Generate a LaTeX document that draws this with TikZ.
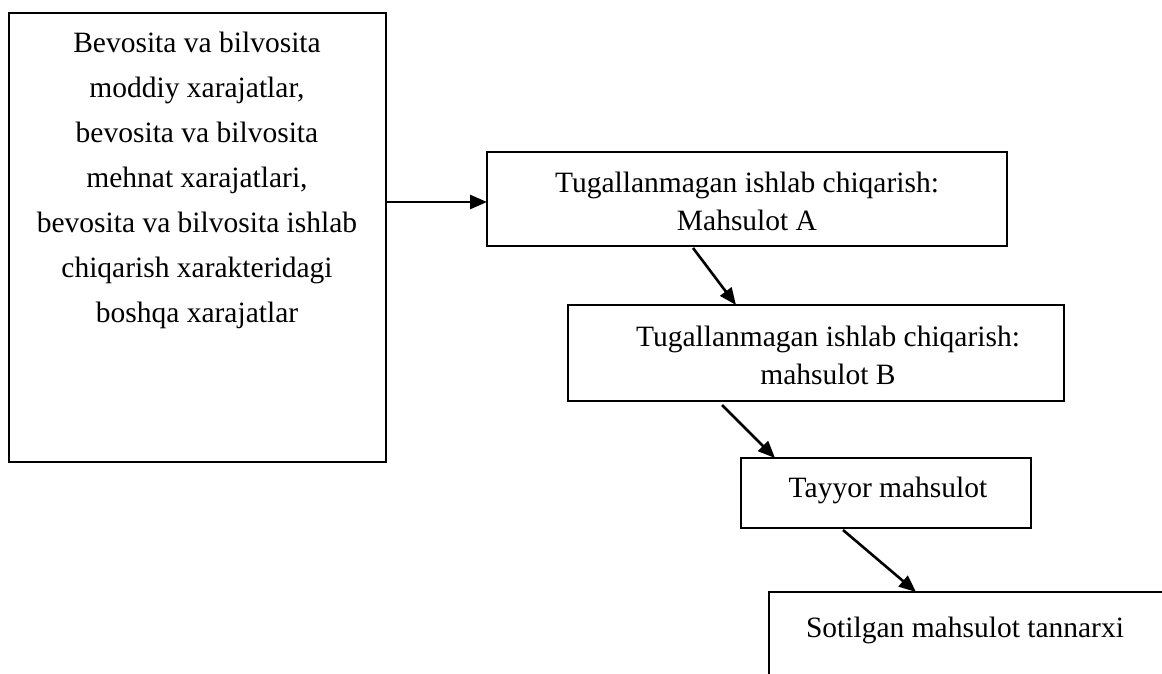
\documentclass[tikz,border=0pt]{standalone}
\usepackage{fontspec}
\setmainfont{Liberation Serif}
\usetikzlibrary{arrows.meta,calc}
\begin{document}
\begin{tikzpicture}[x=1pt,y=-1pt,
  box/.style={draw,line width=1.5pt,inner sep=0pt,outer sep=0pt},
  lbl/.style={font=\fontsize{29.5}{38}\selectfont,align=center,inner sep=0pt},
  tall/.style={font=\fontsize{29.5}{45}\selectfont},
  flow/.style={line width=2.6pt,-{Triangle[length=17pt,width=14pt]}}]
  \useasboundingbox (0,0) rectangle (1162,674);
  \clip (0,0) rectangle (1162,674);

  % boxes
  \node[box,minimum width=377pt,minimum height=449pt] (b1) at (197.5,237.5) {};
  \node[box,minimum width=520pt,minimum height=94pt] (b2) at (747,199) {};
  \node[box,minimum width=496pt,minimum height=96pt] (b3) at (816,353) {};
  \node[box,minimum width=290pt,minimum height=70pt] (b4) at (886,493) {};
  \node[box,minimum width=460pt,minimum height=140pt,anchor=north west] (b5) at (769,592) {};

  % texts
  \node[lbl,tall] (t1) at (197,180) {Bevosita va bilvosita\\moddiy xarajatlar,\\bevosita va bilvosita\\mehnat xarajatlari,\\bevosita va bilvosita ishlab\\chiqarish xarakteridagi\\boshqa xarajatlar};
  \node[lbl] (t2) at (747,201) {Tugallanmagan ishlab chiqarish:\\Mahsulot A};
  \node[lbl] (t3) at (828,355) {Tugallanmagan ishlab chiqarish:\\mahsulot B};
  \node[lbl] (t4) at (888,490) {Tayyor mahsulot};
  \node[lbl] (t5) at (965,630) {Sotilgan mahsulot tannarxi};

  % connector end points on the box borders
  \coordinate (a1s) at (b1.east |- 0,202);
  \coordinate (a1e) at (b2.west |- 0,202);
  \coordinate (a2s) at ([xshift=206pt]b2.south west);
  \coordinate (a2e) at ([xshift=168pt]b3.north west);
  \coordinate (a3s) at ([xshift=154pt]b3.south west);
  \coordinate (a3e) at ([xshift=34pt]b4.north west);
  \coordinate (a4s) at ([xshift=102pt]b4.south west);
  \coordinate (a4e) at ([xshift=147pt]b5.north west);

  \draw[flow] (a1s) -- (a1e);
  \draw[flow] ([yshift=-2pt]a2s) -- (a2e);
  \draw[flow] ([yshift=-4pt]a3s) -- (a3e);
  \draw[flow] ([yshift=-2pt]a4s) -- (a4e);
\end{tikzpicture}
\end{document}
